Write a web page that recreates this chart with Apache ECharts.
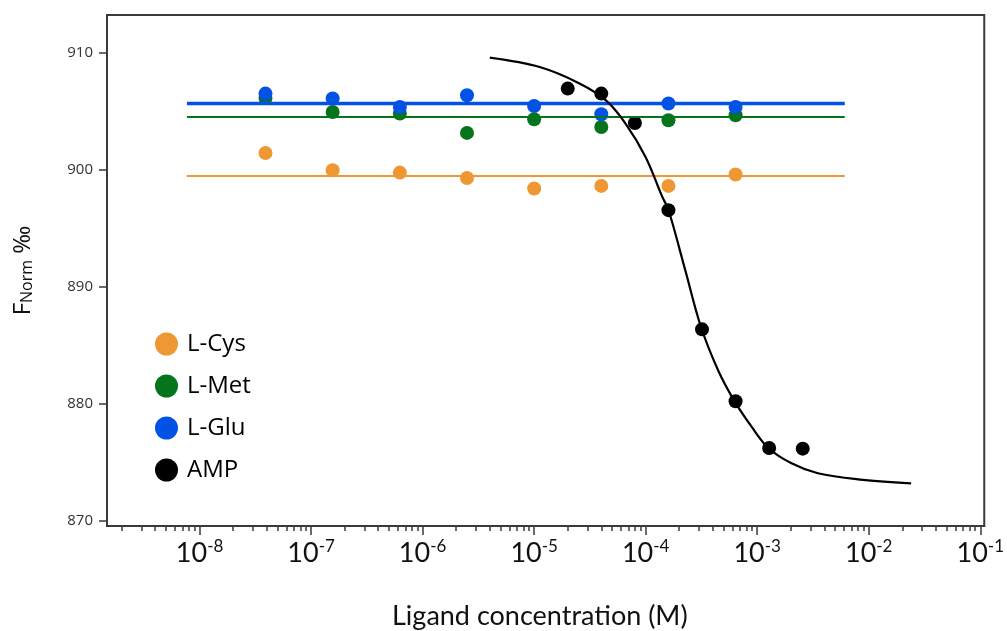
<!DOCTYPE html>
<html>
<head>
<meta charset="utf-8">
<script src="https://cdn.jsdelivr.net/npm/echarts@6/dist/echarts.min.js"></script>
<style>
  html, body { margin: 0; padding: 0; background: #fff; }
  #chart { width: 1007px; height: 631px; }
</style>
</head>
<body>
<div id="chart"></div>
<script>
// ligand concentrations (M), 1:4 dilution series
const ligandConc = [3.9e-8, 1.56e-7, 6.25e-7, 2.5e-6, 1e-5, 4e-5, 1.6e-4, 6.4e-4];
const cysValues = [901.46, 899.98, 899.78, 899.32, 898.42, 898.64, 898.64, 899.61];
const metValues = [906.16, 904.96, 904.82, 903.17, 904.34, 903.68, 904.25, 904.68];
const gluValues = [906.53, 906.11, 905.39, 906.39, 905.47, 904.76, 905.68, 905.39];

const ampConc = [2e-5, 4e-5, 8e-5, 1.6e-4, 3.2e-4, 6.4e-4, 1.28e-3, 2.56e-3];
const ampValues = [906.96, 906.53, 904.02, 896.57, 886.38, 880.23, 876.24, 876.18];

// flat fits for the non-binders
const fitRange = [7.7e-9, 6.1e-3];
const cysFit = 899.48;
const metFit = 904.53;
const gluFit = 905.68;

// AMP dose-response fit
const ampFitConc = [4.0e-6, 1.12e-5, 2.55e-5, 4.4e-5, 6.6e-5, 1.0e-4, 1.41e-4, 1.6e-4, 2.27e-4,
  3.13e-4, 4.5e-4, 6.3e-4, 8.9e-4, 1.26e-3, 2.03e-3, 3.5e-3, 8.0e-3, 2.4e-2];
const ampFitValues = [909.6, 908.8, 907.4, 905.95, 903.97, 901.1, 897.7, 896.6, 891.4,
  886.6, 882.8, 880.2, 878.06, 876.24, 874.93, 874.08, 873.56, 873.22];

const majorTicks = [1e-8, 1e-7, 1e-6, 1e-5, 1e-4, 1e-3, 1e-2, 1e-1];
const minorSteps = [2, 3, 4, 5, 6, 7, 8, 9];
const yTicks = [870, 880, 890, 900, 910];

const colors = {
  cys: '#EF9833',
  met: '#05741D',
  glu: '#0352E6',
  amp: '#000000'
};

const minorTicks = [];
[1e-9].concat(majorTicks.slice(0, -1)).forEach(d => {
  minorSteps.forEach(k => minorTicks.push(k * d));
});

const pairs = (xs, ys) => xs.map((x, i) => [x, ys[i]]);
const flat = v => fitRange.map(x => [x, v]);

const chart = echarts.init(document.getElementById('chart'));

const fitLine = (name, data, color, width) => ({
  name: name,
  type: 'line',
  data: data,
  showSymbol: false,
  silent: true,
  lineStyle: { color: color, width: width },
  itemStyle: { color: color }
});

const dots = (name, data, color) => ({
  name: name,
  type: 'scatter',
  data: data,
  symbolSize: 14,
  itemStyle: { color: color, opacity: 1 }
});

chart.setOption({
  animation: false,
  backgroundColor: '#fff',
  grid: {
    left: 107, top: 15, right: 20, bottom: 105,
    show: true, borderColor: '#3a3a3a', borderWidth: 2
  },
  legend: {
    data: ['L-Cys', 'L-Met', 'L-Glu', 'AMP'].map(n => ({ name: n, icon: 'circle' })),
    orient: 'vertical',
    left: 150,
    top: 327,
    itemWidth: 23,
    itemHeight: 23,
    itemGap: 18,
    textStyle: { fontFamily: 'Open Sans', fontSize: 24, color: '#000', padding: [0, 0, 0, 4] }
  },
  xAxis: [{
    type: 'log',
    logBase: 10,
    min: 1.479e-9,
    max: 0.1086,
    axisLine: { lineStyle: { color: '#3a3a3a', width: 2 } },
    axisTick: { customValues: majorTicks, length: 9, lineStyle: { color: '#3a3a3a', width: 1.5 } },
    axisLabel: {
      customValues: majorTicks,
      margin: 12,
      formatter: v => '{b|10}{s|' + Math.round(Math.log10(v)) + '}',
      rich: {
        b: { fontFamily: 'Lato', fontSize: 27, color: '#111', lineHeight: 30 },
        s: { fontFamily: 'Lato', fontSize: 17, color: '#111', verticalAlign: 'top', lineHeight: 17 }
      }
    },
    splitLine: { show: false }
  }, {
    type: 'log',
    logBase: 10,
    min: 1.479e-9,
    max: 0.1086,
    position: 'bottom',
    axisLine: { show: false },
    axisTick: { customValues: minorTicks, length: 5, lineStyle: { color: '#3a3a3a', width: 1.5 } },
    axisLabel: { show: false },
    splitLine: { show: false }
  }],
  yAxis: {
    type: 'value',
    min: 869.57,
    max: 913.25,
    name: '{big|F}{sub|Norm}{big| ‰}',
    nameLocation: 'middle',
    nameGap: 72,
    nameRotate: 90,
    nameTextStyle: {
      rich: {
        big: { fontFamily: 'Open Sans', fontSize: 24, color: '#111', verticalAlign: 'bottom' },
        sub: { fontFamily: 'Open Sans', fontSize: 16, color: '#111', verticalAlign: 'bottom' }
      }
    },
    axisLine: { show: true, lineStyle: { color: '#3a3a3a', width: 2 } },
    axisTick: { show: true, customValues: yTicks, length: 8, lineStyle: { color: '#3a3a3a', width: 1.5 } },
    axisLabel: {
      customValues: yTicks,
      margin: 14,
      fontFamily: 'Open Sans',
      fontSize: 15,
      color: '#333'
    },
    splitLine: { show: false }
  },
  graphic: [{
    type: 'text',
    left: 392,
    top: 603,
    style: {
      text: 'Ligand concentration (M)',
      fontFamily: 'Lato',
      fontSize: 27,
      fill: '#111'
    }
  }],
  series: [
    fitLine('L-Cys fit', flat(cysFit), colors.cys, 2),
    fitLine('L-Met fit', flat(metFit), colors.met, 2),
    fitLine('L-Glu fit', flat(gluFit), colors.glu, 3.5),
    dots('L-Cys', pairs(ligandConc, cysValues), colors.cys),
    dots('L-Met', pairs(ligandConc, metValues), colors.met),
    dots('L-Glu', pairs(ligandConc, gluValues), colors.glu),
    Object.assign(fitLine('AMP fit', pairs(ampFitConc, ampFitValues), colors.amp, 2.2), { smooth: 0.35 }),
    dots('AMP', pairs(ampConc, ampValues), colors.amp)
  ]
});
</script>
</body>
</html>
